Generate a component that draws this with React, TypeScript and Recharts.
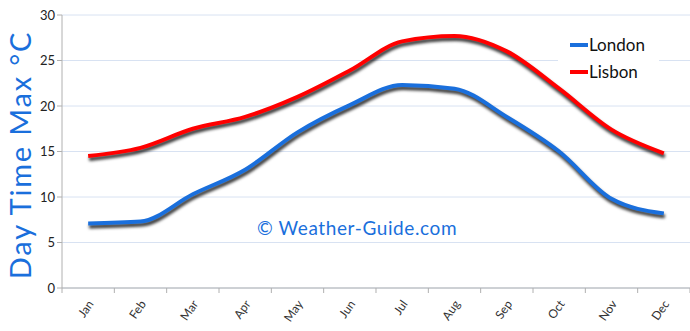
import { CartesianGrid, Line, LineChart, XAxis, YAxis } from "recharts";

const months = ["Jan", "Feb", "Mar", "Apr", "May", "Jun", "Jul", "Aug", "Sep", "Oct", "Nov", "Dec"];
const london = [7.1, 7.3, 10.3, 13.0, 17.1, 20.1, 22.3, 21.9, 18.8, 15.0, 9.8, 8.2];
const lisbon = [14.5, 15.4, 17.5, 18.8, 21.0, 23.9, 27.1, 27.7, 26.0, 21.9, 17.4, 14.8];
const yTicks = [0, 5, 10, 15, 20, 25, 30];

const data = months.map((m, i) => ({ month: m, London: london[i], Lisbon: lisbon[i] }));

const BAND = (690 - 62) / 12;
const FONT = "Lato, sans-serif";

function MonthTick({ x, y, payload, index }: any) {
  return (
    <g transform={`translate(${x},${y})`}>
      <line x1={-BAND / 2} y1={-8} x2={-BAND / 2} y2={-3} stroke="#b0b0b0" />
      {index === 11 && <line x1={BAND / 2} y1={-8} x2={BAND / 2} y2={-3} stroke="#b0b0b0" />}
      <text
        x={6}
        y={8}
        textAnchor="end"
        fontSize={12}
        fill="#333"
        fontFamily={FONT}
        transform="rotate(-55 6 8)"
      >
        {payload.value}
      </text>
    </g>
  );
}

const legendItems = [
  { name: "London", color: "#1a6fdc" },
  { name: "Lisbon", color: "#ff0000" },
];

export default function App() {
  return (
    <div style={{ position: "absolute", left: 0, top: 0, width: 690, height: 331, background: "#fff" }}>
      <style>{`.recharts-line-curve { filter: drop-shadow(1px 3px 1.5px rgba(0,0,0,0.8)); }`}</style>
      <LineChart width={690} height={331} data={data} margin={{ top: 15, right: 0, bottom: 0, left: 0 }}>
        <CartesianGrid vertical={false} stroke="#d8e2f2" />
        <XAxis
          dataKey="month"
          height={43}
          axisLine={{ stroke: "#b0b0b0" }}
          tickLine={false}
          interval={0}
          padding={{ left: BAND / 2, right: BAND / 2 }}
          tick={<MonthTick />}
        />
        <YAxis
          width={62}
          domain={[0, 30]}
          ticks={yTicks}
          axisLine={{ stroke: "#b0b0b0" }}
          tickLine={{ stroke: "#b0b0b0" }}
          tickSize={5}
          tick={{ fill: "#222", fontSize: 13, fontFamily: FONT }}
        />
        <Line
          type="monotone"
          dataKey="London"
          stroke="#1a6fdc"
          strokeWidth={4}
          dot={false}
          activeDot={false}
          isAnimationActive={false}
        />
        <Line
          type="monotone"
          dataKey="Lisbon"
          stroke="#ff0000"
          strokeWidth={4}
          dot={false}
          activeDot={false}
          isAnimationActive={false}
        />
      </LineChart>
      <div
        style={{
          position: "absolute",
          left: 19,
          top: 155,
          transform: "translate(-50%, -50%) rotate(-90deg)",
          whiteSpace: "nowrap",
          fontFamily: FONT,
          fontSize: 29,
          letterSpacing: 1.8,
          color: "#1a6fdc",
        }}
      >
        Day Time Max °C
      </div>
      <div style={{ position: "absolute", left: 558, top: 31, background: "#fff", padding: "0 14px 0 12px" }}>
        {legendItems.map((it) => (
          <div key={it.name} style={{ display: "flex", alignItems: "center", height: 27 }}>
            <span style={{ display: "inline-block", width: 18, height: 4, background: it.color, marginRight: 1 }} />
            <span style={{ fontFamily: FONT, fontSize: 17, color: "#111" }}>{it.name}</span>
          </div>
        ))}
      </div>
      <div
        style={{
          position: "absolute",
          left: 257,
          top: 216,
          fontFamily: FONT,
          fontSize: 19,
          letterSpacing: 0.6,
          color: "#1a6fdc",
        }}
      >
        © Weather-Guide.com
      </div>
    </div>
  );
}
